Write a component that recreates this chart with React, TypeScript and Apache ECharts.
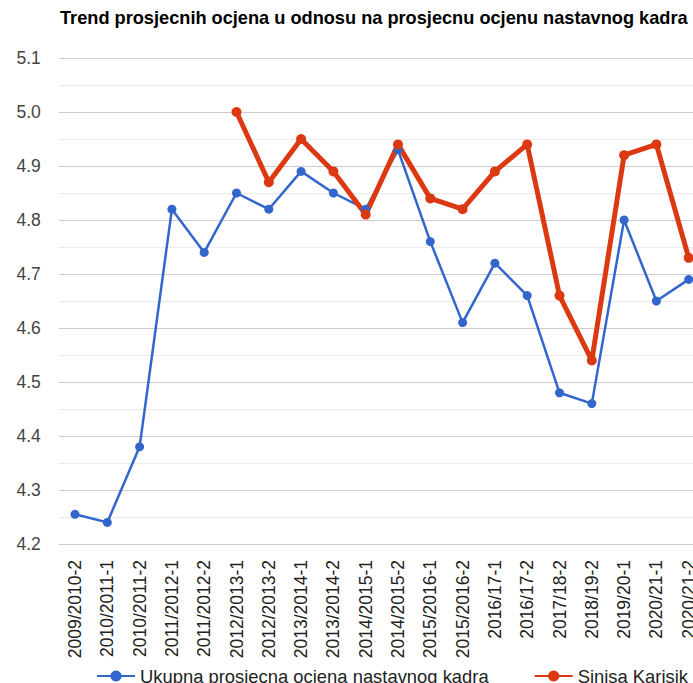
import React, { useEffect, useRef } from "react";
import * as echarts from "echarts";

const categories = [
  "2009/2010-2", "2010/2011-1", "2010/2011-2", "2011/2012-1", "2011/2012-2",
  "2012/2013-1", "2012/2013-2", "2013/2014-1", "2013/2014-2", "2014/2015-1",
  "2014/2015-2", "2015/2016-1", "2015/2016-2", "2016/17-1", "2016/17-2",
  "2017/18-2", "2018/19-2", "2019/20-1", "2020/21-1", "2020/21-2",
];

const ukupnaValues = [
  4.255, 4.24, 4.38, 4.82, 4.74,
  4.85, 4.82, 4.89, 4.85, 4.82,
  4.93, 4.76, 4.61, 4.72, 4.66,
  4.48, 4.46, 4.80, 4.65, 4.69,
];

const karisikValues = [
  null, null, null, null, null,
  5.0, 4.87, 4.95, 4.89, 4.81,
  4.94, 4.84, 4.82, 4.89, 4.94,
  4.66, 4.54, 4.92, 4.94, 4.73,
];

const seriesNames = ["Ukupna prosjecna ocjena nastavnog kadra", "Sinisa Karisik"];
const titleText = "Trend prosjecnih ocjena u odnosu na prosjecnu ocjenu nastavnog kadra";

const FONT = "Arial, 'Liberation Sans', sans-serif";

export default function App() {
  const ref = useRef<HTMLDivElement>(null);
  useEffect(() => {
    if (!ref.current) return;
    const chart = echarts.init(ref.current, null, { renderer: "svg" });
    chart.setOption({
      animation: false,
      backgroundColor: "#ffffff",
      title: {
        text: titleText,
        left: 55,
        top: 4,
        textStyle: { fontFamily: FONT, fontSize: 18.2, fontWeight: "bold", color: "#000" },
      },
      legend: {
        left: 91,
        top: 662,
        itemWidth: 38,
        itemHeight: 14,
        itemGap: 45,
        textStyle: { fontFamily: FONT, fontSize: 18.4, color: "#222" },
        data: seriesNames,
      },
      grid: { left: 58.85, right: 15.15, top: 58, bottom: 139, containLabel: false },
      xAxis: {
        type: "category",
        data: categories,
        boundaryGap: true,
        axisLine: { show: false },
        axisTick: { show: false },
        axisLabel: {
          rotate: 90,
          interval: 0,
          margin: 16,
          fontFamily: FONT,
          fontSize: 17.5,
          color: "#222",
        },
      },
      yAxis: {
        type: "value",
        min: 4.2,
        max: 5.1,
        interval: 0.1,
        axisLine: { show: false },
        axisTick: { show: false },
        axisLabel: {
          margin: 18,
          fontFamily: FONT,
          fontSize: 17.5,
          color: "#444",
          formatter: (v: number) => v.toFixed(1),
        },
        splitLine: { lineStyle: { color: "#cccccc", width: 1 } },
        minorTick: { show: false, splitNumber: 2 },
        minorSplitLine: { show: true, lineStyle: { color: "#ebebeb", width: 1 } },
      },
      series: [
        {
          name: seriesNames[0],
          type: "line",
          data: ukupnaValues,
          color: "#3366cc",
          symbol: "circle",
          symbolSize: 9,
          lineStyle: { width: 2.5, color: "#3366cc" },
          itemStyle: { color: "#3366cc" },
        },
        {
          name: seriesNames[1],
          type: "line",
          data: karisikValues,
          color: "#dc3912",
          symbol: "circle",
          symbolSize: 10,
          connectNulls: false,
          lineStyle: { width: 5, color: "#dc3912" },
          itemStyle: { color: "#dc3912" },
        },
      ],
    });
    return () => chart.dispose();
  }, []);
  return (
    <div style={{ position: "fixed", left: 0, top: 0, width: 693, height: 683, overflow: "hidden", background: "#fff" }}>
      <div ref={ref} style={{ width: 720, height: 683 }} />
    </div>
  );
}
